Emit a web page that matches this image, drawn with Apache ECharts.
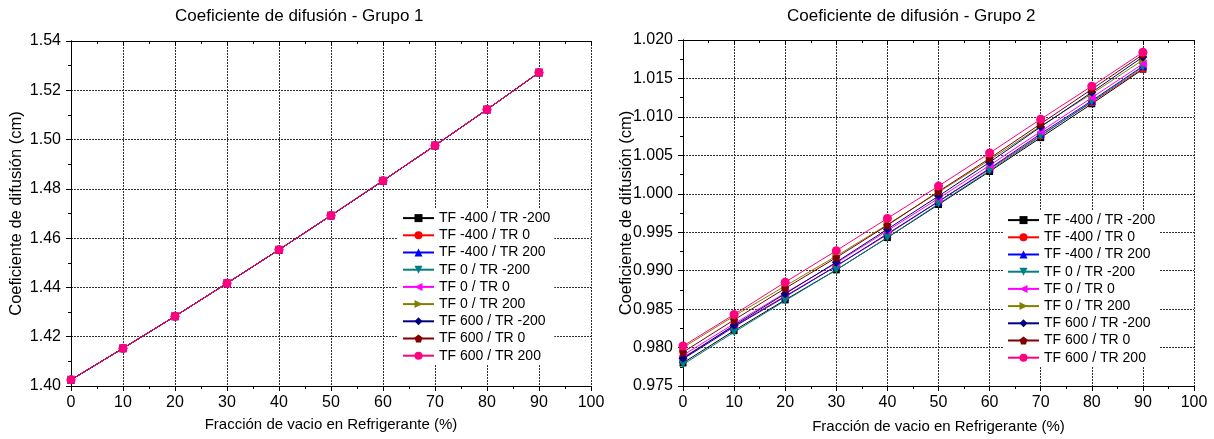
<!DOCTYPE html>
<html>
<head>
<meta charset="utf-8">
<script src="https://cdn.jsdelivr.net/npm/echarts@6/dist/echarts.min.js"></script>
<style>
html,body{margin:0;padding:0;background:#fff;}
#chart{width:1214px;height:439px;}
</style>
</head>
<body>
<div id="chart"></div>
<script>
// ---- data ----
var xValues = [0, 10, 20, 30, 40, 50, 60, 70, 80, 90];
var seriesNames = ['TF -400 / TR -200', 'TF -400 / TR 0', 'TF -400 / TR 200', 'TF 0 / TR -200', 'TF 0 / TR 0', 'TF 0 / TR 200', 'TF 600 / TR -200', 'TF 600 / TR 0', 'TF 600 / TR 200'];
var seriesColors = ['#000000', '#FF0000', '#0000FF', '#008080', '#FF00FF', '#808000', '#000080', '#800000', '#FF0080'];

// Grupo 1 (all nine cases coincide at this scale)
var g1_m400_m200 = [1.4025, 1.4153, 1.4283, 1.4417, 1.4553, 1.4692, 1.4833, 1.4976, 1.5122, 1.5272];
var g1_m400_0    = [1.4025, 1.4153, 1.4283, 1.4417, 1.4553, 1.4692, 1.4833, 1.4976, 1.5122, 1.5272];
var g1_m400_200  = [1.4025, 1.4153, 1.4283, 1.4417, 1.4553, 1.4692, 1.4833, 1.4976, 1.5122, 1.5272];
var g1_0_m200    = [1.4025, 1.4153, 1.4283, 1.4417, 1.4553, 1.4692, 1.4833, 1.4976, 1.5122, 1.5272];
var g1_0_0       = [1.4025, 1.4153, 1.4283, 1.4417, 1.4553, 1.4692, 1.4833, 1.4976, 1.5122, 1.5272];
var g1_0_200     = [1.4025, 1.4153, 1.4283, 1.4417, 1.4553, 1.4692, 1.4833, 1.4976, 1.5122, 1.5272];
var g1_600_m200  = [1.4025, 1.4153, 1.4283, 1.4417, 1.4553, 1.4692, 1.4833, 1.4976, 1.5122, 1.5272];
var g1_600_0     = [1.4025, 1.4153, 1.4283, 1.4417, 1.4553, 1.4692, 1.4833, 1.4976, 1.5122, 1.5272];
var g1_600_200   = [1.4025, 1.4153, 1.4283, 1.4417, 1.4553, 1.4692, 1.4833, 1.4976, 1.5122, 1.5272];

// Grupo 2
var g2_m400_m200 = [0.9780, 0.9822, 0.9862, 0.9901, 0.9943, 0.9986, 1.0029, 1.0073, 1.0117, 1.0162];
var g2_m400_0    = [0.9787, 0.9828, 0.9867, 0.9906, 0.9947, 0.9990, 1.0032, 1.0076, 1.0119, 1.0163];
var g2_m400_200  = [0.9785, 0.9827, 0.9866, 0.9906, 0.9948, 0.9990, 1.0033, 1.0078, 1.0121, 1.0166];
var g2_0_m200    = [0.9778, 0.9820, 0.9861, 0.9901, 0.9943, 0.9987, 1.0030, 1.0075, 1.0120, 1.0165];
var g2_0_0       = [0.9790, 0.9831, 0.9871, 0.9910, 0.9952, 0.9994, 1.0037, 1.0081, 1.0125, 1.0169];
var g2_0_200     = [0.9800, 0.9841, 0.9880, 0.9919, 0.9960, 1.0002, 1.0044, 1.0088, 1.0130, 1.0174];
var g2_600_m200  = [0.9786, 0.9829, 0.9870, 0.9911, 0.9954, 0.9997, 1.0041, 1.0087, 1.0132, 1.0178];
var g2_600_0     = [0.9794, 0.9836, 0.9877, 0.9917, 0.9959, 1.0003, 1.0046, 1.0091, 1.0136, 1.0181];
var g2_600_200   = [0.9802, 0.9843, 0.9885, 0.9926, 0.9968, 1.0010, 1.0053, 1.0097, 1.0140, 1.0184];

var group1 = [g1_m400_m200, g1_m400_0, g1_m400_200, g1_0_m200, g1_0_0, g1_0_200, g1_600_m200, g1_600_0, g1_600_200];
var group2 = [g2_m400_m200, g2_m400_0, g2_m400_200, g2_0_m200, g2_0_0, g2_0_200, g2_600_m200, g2_600_0, g2_600_200];

var titleText1 = 'Coeficiente de difusión - Grupo 1';
var titleText2 = 'Coeficiente de difusión - Grupo 2';
var xTitle = 'Fracción de vacio en Refrigerante (%)';
var yTitle = 'Coeficiente de difusión (cm)';

// ---- styling ----
var FONT = "'Liberation Sans', Arial, sans-serif";
var pentagon = 'path://M0,-10 L9.51,-3.09 L5.88,8.09 L-5.88,8.09 L-9.51,-3.09 Z';
var markers = [
  {symbol: 'rect', size: 7, rotate: 0},
  {symbol: 'circle', size: 8, rotate: 0},
  {symbol: 'triangle', size: 8, rotate: 0},
  {symbol: 'triangle', size: 8, rotate: 180},
  {symbol: 'triangle', size: 8, rotate: 90},
  {symbol: 'triangle', size: 8, rotate: -90},
  {symbol: 'diamond', size: 9, rotate: 0},
  {symbol: pentagon, size: 8, rotate: 0},
  {symbol: 'circle', size: 9, rotate: 0}
];

function pairs(arr) {
  return xValues.map(function (x, i) { return [x, arr[i]]; });
}

var axisLineStyle = {show: true, lineStyle: {color: '#000', width: 1}};
var gridLine = {show: true, lineStyle: {color: '#333', width: 1, type: [2, 1]}};

function bottomX(gridIndex, labelMargin, nameGap) {
  return {
    type: 'value', gridIndex: gridIndex, position: 'bottom', min: 0, max: 100, interval: 10,
    axisLine: axisLineStyle,
    axisTick: {show: true, inside: false, length: 5, lineStyle: {color: '#000'}},
    minorTick: {show: true, splitNumber: 2, length: 3, lineStyle: {color: '#000'}},
    axisLabel: {color: '#000', fontSize: 16, fontFamily: FONT, margin: labelMargin},
    splitLine: gridLine,
    name: xTitle, nameLocation: 'middle', nameGap: nameGap, nameMoveOverlap: false,
    nameTextStyle: {color: '#000', fontSize: 15, fontFamily: FONT}
  };
}
function topX(gridIndex) {
  return {
    type: 'value', gridIndex: gridIndex, position: 'top', min: 0, max: 100, interval: 10,
    axisLine: axisLineStyle,
    axisTick: {show: true, inside: true, length: 5, lineStyle: {color: '#000'}},
    minorTick: {show: true, splitNumber: 2, length: 3, lineStyle: {color: '#000'}},
    axisLabel: {show: false}, splitLine: {show: false}
  };
}
function leftY(gridIndex, min, max, interval, digits, labelMargin, nameGap) {
  return {
    type: 'value', gridIndex: gridIndex, position: 'left', min: min, max: max, interval: interval,
    axisLine: axisLineStyle,
    axisTick: {show: true, inside: false, length: 5, lineStyle: {color: '#000'}},
    minorTick: {show: true, splitNumber: 2, length: 3, lineStyle: {color: '#000'}},
    axisLabel: {color: '#000', fontSize: 16, fontFamily: FONT, margin: labelMargin,
      formatter: function (v) { return v.toFixed(digits); }},
    splitLine: gridLine,
    name: yTitle, nameLocation: 'middle', nameGap: nameGap, nameRotate: 90, nameMoveOverlap: false,
    nameTextStyle: {color: '#000', fontSize: 16.5, fontFamily: FONT}
  };
}
function rightY(gridIndex, min, max, interval) {
  return {
    type: 'value', gridIndex: gridIndex, position: 'right', min: min, max: max, interval: interval,
    axisLine: axisLineStyle,
    axisTick: {show: true, inside: true, length: 5, lineStyle: {color: '#000'}},
    minorTick: {show: true, splitNumber: 2, length: 3, lineStyle: {color: '#000'}},
    axisLabel: {show: false}, splitLine: {show: false}
  };
}

var series = [];
function addGroup(group, xIdx, yIdx) {
  group.forEach(function (arr, i) {
    series.push({
      type: 'line', name: seriesNames[i], xAxisIndex: xIdx, yAxisIndex: yIdx,
      data: pairs(arr),
      symbol: markers[i].symbol, symbolSize: markers[i].size, symbolRotate: markers[i].rotate,
      showAllSymbol: true, animation: false,
      lineStyle: {color: seriesColors[i], width: 1},
      itemStyle: {color: seriesColors[i]},
      z: 3 + i
    });
  });
}
addGroup(group1, 0, 0);
addGroup(group2, 2, 2);

function legend(left, top) {
  return {
    data: seriesNames, orient: 'vertical', left: left, top: top,
    backgroundColor: '#fff', padding: [2, 4, 2, 4],
    itemWidth: 31, itemHeight: 10, itemGap: 3,
    symbolRotate: 'inherit',
    textStyle: {color: '#000', fontSize: 14, fontFamily: FONT, lineHeight: 14.2},
    selectedMode: false, z: 10
  };
}

var titleStyle = {color: '#000', fontSize: 17, fontWeight: 'normal', fontFamily: FONT};
var option = {
  backgroundColor: '#fff',
  animation: false,
  title: [
    {text: titleText1, left: 175, top: 8, padding: 0, textStyle: titleStyle},
    {text: titleText2, left: 787, top: 8, padding: 0, textStyle: titleStyle}
  ],
  grid: [
    {left: 71, top: 41, width: 520, height: 345},
    {left: 683, top: 40, width: 511, height: 351}
  ],
  xAxis: [bottomX(0, 9, 31), topX(0), bottomX(1, 9, 33), topX(1)],
  yAxis: [leftY(0, 1.40, 1.54, 0.02, 2, 10, 46), rightY(0, 1.40, 1.54, 0.02),
          leftY(1, 0.975, 1.020, 0.005, 3, 10, 48), rightY(1, 0.975, 1.020, 0.005)],
  legend: [legend(398, 209), legend(1003, 211)],
  series: series
};

var chart = echarts.init(document.getElementById('chart'), null, {renderer: 'canvas'});
chart.setOption(option);
</script>
</body>
</html>
